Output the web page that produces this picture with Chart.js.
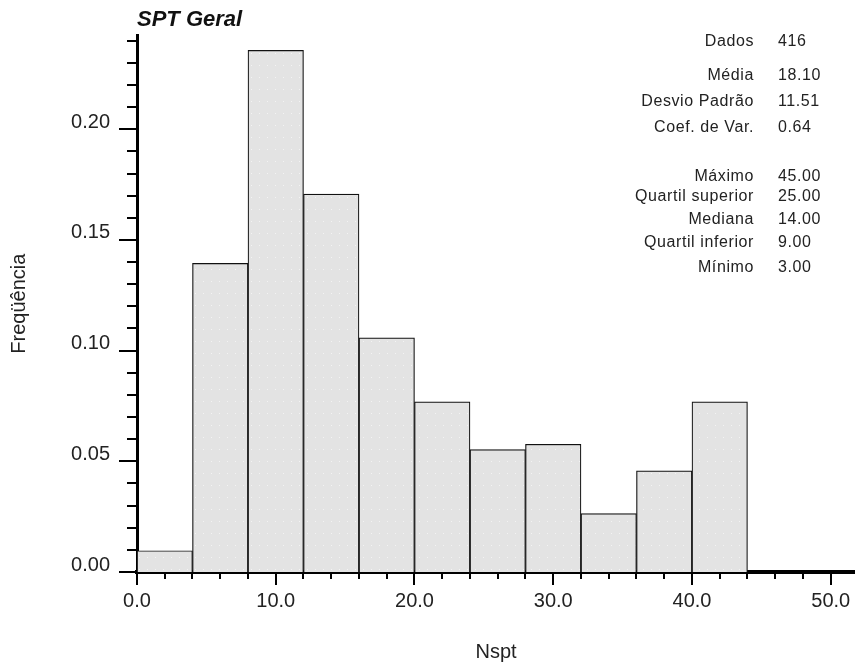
<!DOCTYPE html>
<html>
<head>
<meta charset="utf-8">
<script src="https://cdn.jsdelivr.net/npm/chart.js@4.4.1/dist/chart.umd.min.js"></script>
<style>
  body { margin: 0; background: #fff; }
  #wrap { position: relative; width: 855px; height: 664px; }
  #stats { position: absolute; left: 0; top: 0; width: 855px; height: 300px;
           font: 16px "Liberation Sans", Arial, sans-serif; color: #222; letter-spacing: 0.6px; }
  .stat-label, .stat-value { position: absolute; line-height: 20px; white-space: nowrap; }
  .stat-label { right: 101px; text-align: right; }
  .stat-value { left: 778px; }
</style>
</head>
<body>
<div id="wrap">
  <canvas id="hist" width="855" height="664"></canvas>
  <div id="stats"></div>
</div>
<script>
// histogram bins (Nspt) and relative frequency
const binStarts = [0, 4, 8, 12, 16, 20, 24, 28, 32, 36, 40];
const binWidth = 4;
const frequencies = [0.0096, 0.1394, 0.2356, 0.1707, 0.1058, 0.0769, 0.0553, 0.0577, 0.0264, 0.0457, 0.0769];

// summary table
const statLabels = ['Dados', 'Média', 'Desvio Padrão', 'Coef. de Var.', 'Máximo', 'Quartil superior', 'Mediana', 'Quartil inferior', 'Mínimo'];
const statValues = ['416', '18.10', '11.51', '0.64', '45.00', '25.00', '14.00', '9.00', '3.00'];
const statRowY = [41, 75, 101, 127, 176, 196, 219, 242, 267];

const FONT = '"Liberation Sans", Arial, sans-serif';

// table overlay
const stats = document.getElementById('stats');
statLabels.forEach((lab, i) => {
  const l = document.createElement('div');
  l.className = 'stat-label';
  l.style.top = (statRowY[i] - 10) + 'px';
  l.textContent = lab;
  const v = document.createElement('div');
  v.className = 'stat-value';
  v.style.top = (statRowY[i] - 10) + 'px';
  v.textContent = statValues[i];
  stats.appendChild(l);
  stats.appendChild(v);
});

// light grey fill with faint dots
function dotPattern() {
  const c = document.createElement('canvas');
  c.width = 8; c.height = 12;
  const g = c.getContext('2d');
  g.fillStyle = '#e3e3e3';
  g.fillRect(0, 0, 8, 12);
  g.fillStyle = '#f3f3f3';
  g.fillRect(3, 5, 1, 1);
  return g.createPattern(c, 'repeat');
}

// major/minor tick marks on both axes
const axisTicks = {
  id: 'axisTicks',
  afterDraw(chart) {
    const { ctx, chartArea, scales: { x, y } } = chart;
    ctx.save();
    ctx.strokeStyle = '#000';
    ctx.lineWidth = 2;
    ctx.beginPath();
    for (let i = 0; i * 2 <= x.max; i++) {
      const px = Math.round(x.getPixelForValue(i * 2));
      const len = i % 5 === 0 ? 13 : 7;
      ctx.moveTo(px, chartArea.bottom);
      ctx.lineTo(px, chartArea.bottom + len);
    }
    for (let j = 0; j / 100 <= y.max; j++) {
      const py = Math.round(y.getPixelForValue(j / 100));
      const len = j % 5 === 0 ? 18 : 10;
      ctx.moveTo(chartArea.left, py);
      ctx.lineTo(chartArea.left - len, py);
    }
    ctx.stroke();
    ctx.restore();
  }
};

new Chart(document.getElementById('hist'), {
  type: 'bar',
  data: {
    datasets: [{
      data: binStarts.map((s, i) => ({ x: s + binWidth / 2, y: frequencies[i] })),
      backgroundColor: dotPattern(),
      borderColor: '#111',
      borderWidth: 1.2,
      barPercentage: 1,
      categoryPercentage: 1,
      grouped: false
    }]
  },
  options: {
    responsive: false,
    animation: false,
    layout: { padding: 0 },
    plugins: {
      legend: { display: false },
      tooltip: { enabled: false },
      title: {
        display: true, text: 'SPT Geral', align: 'start', fullSize: false,
        color: '#111', font: { family: FONT, size: 22, weight: 'bold', style: 'italic' },
        padding: { top: 7, bottom: 2 }
      }
    },
    scales: {
      x: {
        type: 'linear', min: 0, max: 51.75, offset: false,
        grid: { display: false, drawTicks: false, offset: false },
        border: { color: '#000', width: 4 },
        ticks: { stepSize: 10, includeBounds: false, padding: 17, color: '#222',
                 font: { family: FONT, size: 20 }, callback: v => v.toFixed(1) },
        title: { display: true, text: 'Nspt', color: '#222', font: { family: FONT, size: 20 },
                 padding: { top: 0, bottom: 0 } },
        afterFit(s) { s.height = 92; s.paddingLeft = 0; s.paddingRight = 0; }
      },
      y: {
        min: 0, max: 0.2424,
        grid: { display: false, drawTicks: false },
        border: { color: '#000', width: 3 },
        ticks: { stepSize: 0.05, includeBounds: false, padding: 27, labelOffset: -7, color: '#222',
                 font: { family: FONT, size: 20 }, callback: v => v.toFixed(2) },
        title: { display: true, text: 'Freqüência', color: '#222', font: { family: FONT, size: 20 },
                 padding: { top: 7, bottom: 0 } },
        afterFit(s) { s.width = 137; s.paddingTop = 0; s.paddingBottom = 0; }
      }
    }
  },
  plugins: [axisTicks]
});
</script>
</body>
</html>
